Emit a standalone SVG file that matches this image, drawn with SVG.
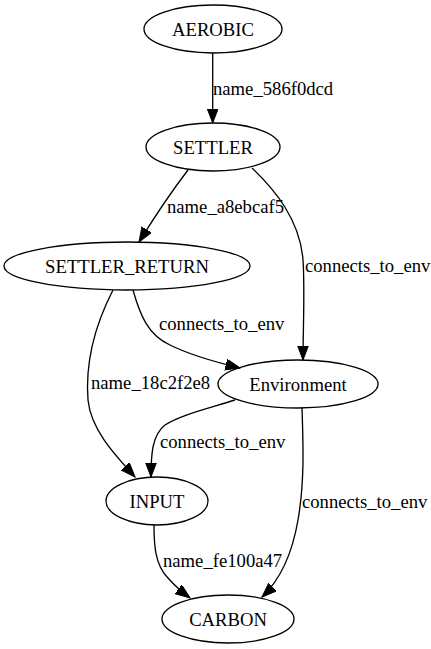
<svg xmlns="http://www.w3.org/2000/svg" width="431" height="649" viewBox="0 0 431 649">
<style>
  .node ellipse { fill: none; stroke: #000; stroke-width: 1.33; }
  .edges path { fill: none; stroke: #000; stroke-width: 1.33; marker-end: url(#arrow); }
</style>
<defs>
  <marker id="arrow" markerUnits="userSpaceOnUse" markerWidth="16" markerHeight="12" refX="14.5" refY="5.5" orient="auto" viewBox="0 0 16 12">
    <path d="M0,0 L14.5,5.5 L0,11 z" fill="#000" stroke="#000" stroke-width="1"/>
  </marker>
</defs>
<rect width="431" height="649" fill="#fff"/>
<g class="edges" id="edges" font-family="Liberation Serif, Times New Roman, serif" font-size="18.67" fill="#000">
  <path d="M212.7,53 L212.7,123"/>
  <text x="213" y="95">name_586f0dcd</text>
  <path d="M188,170 C178,183 160,208 139,242"/>
  <text x="167" y="213">name_a8ebcaf5</text>
  <path d="M252,168 C275,190 300,220 303,260 C305,290 303,330 303,360"/>
  <text x="305" y="272">connects_to_env</text>
  <path d="M133,290 C140,315 148,335 170,345 C190,355 215,362 240,368"/>
  <text x="159" y="330">connects_to_env</text>
  <path d="M113,290 C95,325 85,360 88,400 C91,430 115,455 135,477"/>
  <text x="91" y="389">name_18c2f2e8</text>
  <path d="M235,400 C210,408 180,415 165,425 C152,435 151,455 151,477"/>
  <text x="160" y="448">connects_to_env</text>
  <path d="M302,408 C303,440 305,480 298,520 C292,555 280,580 262,597"/>
  <text x="302" y="508">connects_to_env</text>
  <path d="M154,525 C154,545 155,565 168,578 C175,586 182,592 190,598"/>
  <text x="163" y="567">name_fe100a47</text>
</g>
<g class="node" id="AEROBIC" font-family="Liberation Serif, Times New Roman, serif" font-size="18.67" text-anchor="middle">
  <ellipse cx="213" cy="29" rx="69" ry="24"/>
  <text x="213" y="36">AEROBIC</text>
</g>
<g class="node" id="SETTLER" font-family="Liberation Serif, Times New Roman, serif" font-size="18.67" text-anchor="middle">
  <ellipse cx="213" cy="147" rx="67" ry="24"/>
  <text x="213" y="154">SETTLER</text>
</g>
<g class="node" id="SETTLER_RETURN" font-family="Liberation Serif, Times New Roman, serif" font-size="18.67" text-anchor="middle">
  <ellipse cx="127" cy="266" rx="123" ry="24"/>
  <text x="127" y="273">SETTLER_RETURN</text>
</g>
<g class="node" id="Environment" font-family="Liberation Serif, Times New Roman, serif" font-size="18.67" text-anchor="middle">
  <ellipse cx="298" cy="384" rx="80" ry="24"/>
  <text x="298" y="391">Environment</text>
</g>
<g class="node" id="INPUT" font-family="Liberation Serif, Times New Roman, serif" font-size="18.67" text-anchor="middle">
  <ellipse cx="157" cy="501" rx="51" ry="24"/>
  <text x="157" y="508">INPUT</text>
</g>
<g class="node" id="CARBON" font-family="Liberation Serif, Times New Roman, serif" font-size="18.67" text-anchor="middle">
  <ellipse cx="228" cy="619" rx="66" ry="24"/>
  <text x="228" y="626">CARBON</text>
</g>
</svg>
